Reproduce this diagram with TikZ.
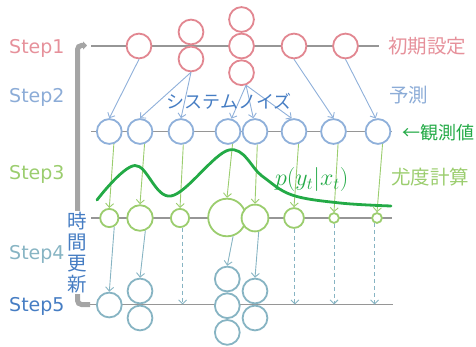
\RequirePackage{fix-cm}
\documentclass[tikz,border=0pt]{standalone}
\usepackage{fontspec}
\setmainfont{DejaVu Sans}
\newfontfamily\jp{Noto Sans CJK JP}
\usetikzlibrary{arrows.meta}
\definecolor{pinkC}{RGB}{226,135,145}
\definecolor{pinkT}{RGB}{230,145,155}
\definecolor{blueC}{RGB}{143,176,218}
\definecolor{blueT}{RGB}{140,172,215}
\definecolor{dblue}{RGB}{70,125,195}
\definecolor{greenC}{RGB}{155,205,110}
\definecolor{dgreen}{RGB}{35,170,70}
\definecolor{tealC}{RGB}{135,180,195}
\definecolor{lineG}{RGB}{150,150,150}
\definecolor{barG}{RGB}{165,165,165}
\begin{document}
\begin{tikzpicture}[x=1pt,y=-1pt,
  circ/.style={circle, draw, fill=white, line width=1.8pt, inner sep=0pt, minimum size=#1},
  pc/.style={circ=24.8pt, draw=pinkC},
  bc/.style={circ=24.8pt, draw=blueC},
  tc/.style={circ=24.8pt, draw=tealC},
  gc/.style={circ=#1, draw=greenC},
  arr/.style={line width=0.9pt, -{Straight Barb[length=4pt,width=8pt]}},
  hline/.style={draw=lineG, line width=1.3pt},
  steplbl/.style={font=\fontsize{19}{22}\selectfont, anchor=base west, inner sep=0pt},
  jplbl/.style={font=\jp\fontsize{19.5}{22}\selectfont, anchor=west, inner sep=0pt},
  dashline/.style={dash pattern=on 4pt off 3pt}
]
\useasboundingbox (0,0) rectangle (476,347);

% baselines
\coordinate (L1a) at (91,46);   \coordinate (L1b) at (379,46);
\coordinate (L2a) at (91,131.5); \coordinate (L2b) at (392,131.5);
\coordinate (L3a) at (91,218);  \coordinate (L3b) at (392,218);
\coordinate (L5a) at (90,304.5); \coordinate (L5b) at (393,304.5);
\draw[hline] (L1a) -- (L1b);
\draw[hline] (L2a) -- (L2b);
\draw[hline] (L3a) -- (L3b);
\draw[hline] (L5a) -- (L5b);

% bracket
\draw[barG, line width=5pt, rounded corners=4pt, -{Triangle[length=4pt,width=8pt]}]
  (L5a) -- (77.5,304.5) -- (77.5,45.5) -- (87,45.5);

% Step 1
\node[pc] (p1) at (139,46) {};
\node[pc] (p2a) at (191,32) {};
\node[pc] (p2b) at (191,59) {};
\node[pc] (p3a) at (241.5,19.5) {};
\node[pc] (p3b) at (241.5,46) {};
\node[pc] (p3c) at (241.5,72.7) {};
\node[pc] (p4) at (294,46) {};
\node[pc] (p5) at (345.5,46) {};

% Step 2
\node[bc] (b1) at (109.3,131.5) {};
\node[bc] (b2) at (140,131.5) {};
\node[bc] (b3) at (181,131.5) {};
\node[bc] (b4) at (228,131.5) {};
\node[bc] (b5) at (255,131.5) {};
\node[bc] (b6) at (294,131.5) {};
\node[bc] (b7) at (333.5,131.5) {};
\node[bc] (b8) at (378,131.5) {};

% Step 3
\node[gc=18.2pt] (g1) at (109.3,218) {};
\node[gc=25.6pt] (g2) at (140,218) {};
\node[gc=18.2pt] (g3) at (180,218) {};
\node[gc=37.6pt] (g4) at (227,217.5) {};
\node[gc=26.8pt] (g5) at (255,218) {};
\node[gc=19.8pt] (g6) at (294,218) {};
\node[gc=9.8pt] (g7) at (334,218) {};
\node[gc=9.8pt] (g8) at (377,218) {};

% Step 5
\node[tc] (t1) at (109.3,305) {};
\node[tc] (t2a) at (140,291) {};
\node[tc] (t2b) at (140,318) {};
\node[tc] (t4a) at (227.3,279) {};
\node[tc] (t4b) at (227.3,305.7) {};
\node[tc] (t4c) at (227.3,332.4) {};
\node[tc] (t5a) at (255,291) {};
\node[tc] (t5b) at (255,318) {};

% prediction arrows
\begin{scope}[arr, blueC]
\draw (p1.south) -- (b1.north);
\draw (p2b.south) -- (b2.north);
\draw (p2b.south) -- (b3.north);
\draw (p3c.-70) -- (b4.75);
\draw (p3c.-70) -- (b5.97);
\draw (p3c.-70) -- (b6.100);
\draw (p4.south) -- (b7.north);
\draw (p5.south) -- (b8.100);
\end{scope}

% likelihood arrows
\begin{scope}[arr, greenC]
\draw (b1.-70) -- (g1.north);
\draw (b2.-70) -- (g2.north);
\draw (b3.-80) -- (g3.north);
\draw (b4.-70) -- (g4.north);
\draw (b5.-80) -- (g5.north);
\draw (b6.-70) -- (g6.north);
\draw (b7.-70) -- (g7.north);
\draw (b8.-70) -- (g8.north);
\end{scope}

% time update arrows
\begin{scope}[arr, tealC]
\draw (g1.-60) -- (t1.north);
\draw (g2.-67) -- (t2a.north);
\draw (g4.-72) -- (t4a.north);
\draw (g5.-75) -- (t5a.north);
\draw[dashline] (g3.-75) -- (g3.-75 |- L5a);
\draw[dashline] (g6.-85) -- (g6.-85 |- L5a);
\draw[dashline] (g7.south) -- (g7.south |- L5a);
\draw[dashline] (g8.-115) -- (g8.-115 |- L5a);
\end{scope}

% likelihood curve
\draw[dgreen, line width=2.8pt, line cap=round]
  plot[smooth, tension=0.6] coordinates {(97,200) (135,165.5) (171,196) (229,150) (262,176) (292,195) (340,203) (391,206)};

% labels
\node[steplbl, pinkT] (s1) at (9,53.5) {Step1};
\node[steplbl, blueT] (s2) at (9,103) {Step2};
\node[steplbl, greenC] (s3) at (9,180) {Step3};
\node[steplbl, tealC] (s4) at (9,259) {Step4};
\node[steplbl, dblue] (s5) at (9,311.5) {Step5};

\node[jplbl, pinkT] (r1) at (388,46) {初期設定};
\node[jplbl, blueT] (r2) at (389,95) {予測};
\node[jplbl, dgreen, font=\jp\fontsize{18}{22}\selectfont] (r3) at (402,133) {←観測値};
\node[jplbl, greenC] (r4) at (391,177) {尤度計算};
\node[jplbl, dblue, font=\jp\fontsize{18}{22}\selectfont, anchor=center] (sn) at (229,101) {システムノイズ};
\node[dgreen, anchor=west, inner sep=0pt, font=\fontsize{24}{28}\selectfont] (lk) at (275,180) {$p(y_t|x_t)$};
\node[dblue, fill=white, inner sep=0.5pt, align=center, font=\jp\fontsize{19.5}{21}\selectfont] (tu) at (77.5,252.5) {時\\間\\更\\新};
\end{tikzpicture}
\end{document}
